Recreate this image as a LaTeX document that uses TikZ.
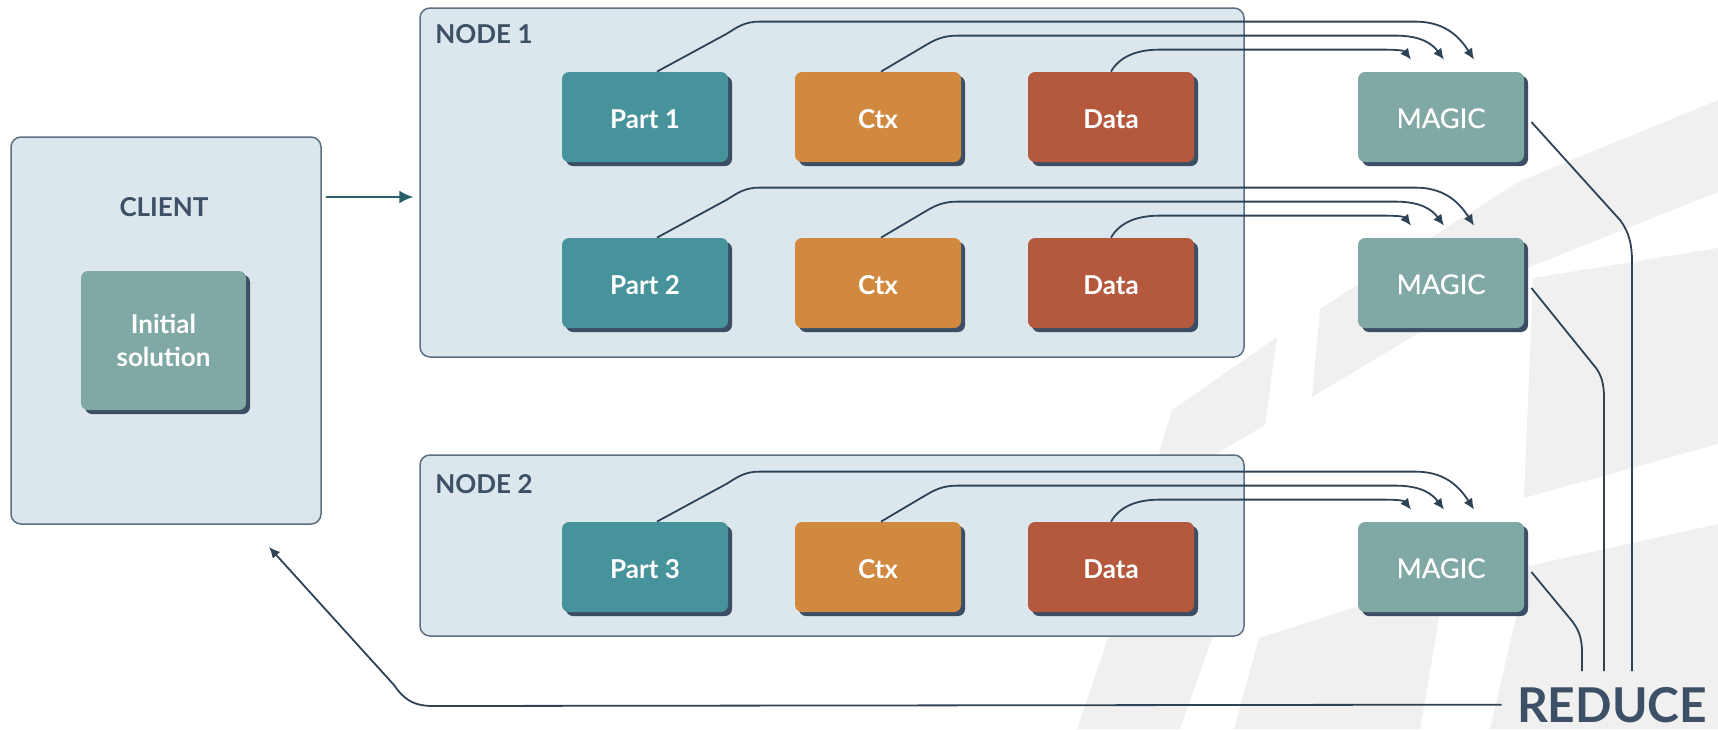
\documentclass[tikz,border=0pt]{standalone}
\usepackage{fontspec}
\setmainfont{Lato}
\newfontfamily\latomid{Lato}[FakeBold=0.6]
\usetikzlibrary{calc,shadows,arrows.meta}

\definecolor{partc}{HTML}{47939B}
\definecolor{ctxc}{HTML}{D1893F}
\definecolor{datac}{HTML}{B4593E}
\definecolor{magicc}{HTML}{80A8A5}
\definecolor{shadowc}{HTML}{3B4E63}
\definecolor{panelc}{HTML}{DBE7ED}
\definecolor{panelline}{HTML}{5E6F7F}
\definecolor{linec}{HTML}{2E4356}
\definecolor{inkc}{HTML}{3D5066}
\definecolor{markc}{HTML}{F0F0F0}
\definecolor{feedc}{HTML}{2A5F67}

\begin{document}
\begin{tikzpicture}[x=0.5pt,y=-0.5pt,
  panel/.style={draw=panelline,line width=0.75pt,fill=panelc,rounded corners=5pt,inner sep=0pt},
  blockbase/.style={rounded corners=3.5pt,inner sep=0pt,text=white,
    drop shadow={shadow xshift=2pt,shadow yshift=-2pt,fill=shadowc,opacity=1}},
  block/.style={blockbase,minimum width=83pt,minimum height=45pt,
    text height=11pt,text depth=0pt,font=\fontsize{13}{15.6}\selectfont\bfseries},
  magic/.style={block,fill=magicc,font=\latomid\fontsize{13.6}{16}\selectfont},
  title/.style={text=inkc,inner sep=0pt,font=\fontsize{13}{15.6}\selectfont\bfseries},
  flow/.style={draw=linec,line width=0.9pt,-{Latex[length=5.5pt,width=5pt]}},
  mergeline/.style={draw=linec,line width=0.9pt},
]
\useasboundingbox (0,0) rectangle (1718,729);

% faint backdrop emblem
\fill[markc] (1172,410) -- (1277,337) -- (1265,425) -- (1146,496) -- cycle;
\fill[markc] (1077,729) -- (1104,650) -- (1110,630) -- (1215,630) -- (1180,729) -- cycle;
\fill[markc] (1320,309) -- (1518,182) -- (1718,100) -- (1718,192) -- (1527,268) -- (1312,397) -- cycle;
\fill[markc] (1533,278) -- (1718,248) -- (1718,444) -- (1524,498) -- cycle;
\fill[markc] (1259,638) -- (1446,578) -- (1420,729) -- (1234,729) -- cycle;
\fill[markc] (1528,566) -- (1718,524) -- (1718,729) -- (1490,729) -- cycle;

% containers
\node[panel,minimum width=155pt,minimum height=193.5pt] (client) at (166,330.5) {};
\node[panel,minimum width=412pt,minimum height=174.5pt] (node1) at (832,182.5) {};
\node[panel,minimum width=412pt,minimum height=90.5pt] (node2) at (832,545.5) {};

\node[title] (clientlab) at (164,207) {CLIENT};
\node[title,anchor=base west] (node1lab) at (435,43) {NODE 1};
\node[title,anchor=base west] (node2lab) at (435,493) {NODE 2};

\node[blockbase,fill=magicc,minimum width=82.5pt,minimum height=69.5pt,align=center,
      font=\fontsize{13}{16.5}\selectfont\bfseries] (init) at (163.5,340.5) {Initial\\solution};

% work items, one row per part
\foreach \r/\y in {1/117,2/283,3/567} {
  \node[block,fill=partc] (p\r) at (645,\y) {Part \r};
  \node[block,fill=ctxc] (c\r) at (878,\y) {Ctx};
  \node[block,fill=datac] (d\r) at (1111,\y) {Data};
  \node[magic] (m\r) at (1441,\y) {MAGIC};
}

% inputs gathered by each MAGIC step
\foreach \r in {1,2,3} {
  \draw[flow] ($(p\r.north)+(12,0)$) -- ++(70,-38)
     .. controls +(11,-7) and +(-15,0) .. ++(33,-12)
     -- ($(m\r.north)+(-26,-50)$)
     .. controls +(28,0) and +(-16,-25) .. ($(m\r.north)+(33,-12)$);
  \draw[flow] ($(c\r.north)+(3,0)$) -- ++(44,-26)
     .. controls +(10,-6) and +(-15,0) .. ++(33,-10)
     -- ($(m\r.north)+(-46,-36)$)
     .. controls +(26,0) and +(-12,-16) .. ($(m\r.north)+(3,-12)$);
  \draw[flow] (d\r.north)
     .. controls +(8,-14) and +(-25,0) .. ++(49,-22)
     -- ($(m\r.north)+(-60,-22)$)
     .. controls +(18,0) and +(-7,-9) .. ($(m\r.north)+(-30,-12)$);
}

% reduction
\node[text=inkc,inner sep=0pt,anchor=base,font=\fontsize{24}{28}\selectfont\bfseries] (reduce) at (1612,722) {REDUCE};
\coordinate (j1) at (1632,671);
\coordinate (j2) at (1604,671);
\coordinate (j3) at (1582,671);
\draw[mergeline] ($(m1.east)+(7,5)$) -- (1620,220) .. controls (1629,232) and (1632,244) .. (1632,262) -- (j1);
\draw[mergeline] ($(m2.east)+(7,5)$) -- (1596,368) .. controls (1601,375) and (1604,383) .. (1604,398) -- (j2);
\draw[mergeline] ($(m3.east)+(7,5)$) -- (1572,621) .. controls (1578,629) and (1582,637) .. (1582,652) -- (j3);

% result back to the client
\coordinate (back) at (269,547);
\draw[flow] ($(reduce.west)+(-15,0)$) -- (433,706)
   .. controls (412,706) and (403,698) .. (394,685) -- (back);

% client sends the job to the cluster
\draw[draw=feedc,line width=1pt,-{Latex[length=7pt,width=6.5pt]}]
   ($(client.east)+(4,-133.5)$) -- ($(node1.west)+(-6,14.5)$);
\end{tikzpicture}
\end{document}
